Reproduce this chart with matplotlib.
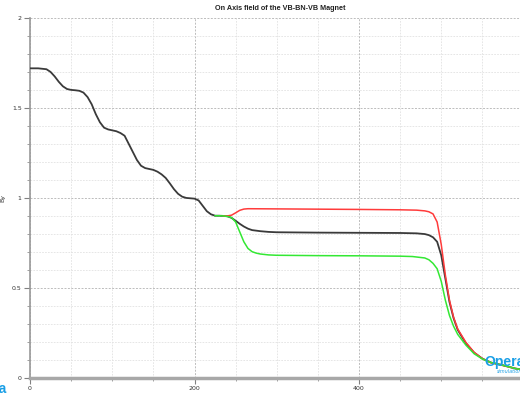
import matplotlib
matplotlib.use("Agg")
import matplotlib.pyplot as plt
from matplotlib.ticker import MultipleLocator, FixedLocator

# Field profile up to the point where the three settings split
z_common = [0, 10, 20, 25, 30, 35, 40, 45, 50, 55, 60, 65, 70, 75, 80, 85, 90, 95,
            100, 105, 110, 115, 120, 125, 130, 135, 140, 145, 150, 155, 160, 165,
            170, 175, 180, 185, 190, 195, 200, 205, 210, 215, 220, 225, 230, 235, 240]
by_common = [1.72, 1.72, 1.715, 1.70, 1.675, 1.645, 1.62, 1.605, 1.60, 1.598, 1.595,
             1.585, 1.56, 1.52, 1.465, 1.42, 1.39, 1.38, 1.375, 1.37, 1.36, 1.345,
             1.30, 1.255, 1.21, 1.178, 1.165, 1.16, 1.155, 1.145, 1.13, 1.11, 1.08,
             1.048, 1.022, 1.006, 0.999, 0.997, 0.995, 0.985, 0.955, 0.925, 0.908,
             0.90, 0.90, 0.899, 0.897]

# Nominal (black)
z_mid = [245, 250, 255, 260, 265, 270, 280, 290, 300, 350, 400, 450, 470, 480, 485,
         490, 495, 500, 505, 510, 515, 520, 530, 540, 550, 560, 575, 590, 600]
by_mid = [0.888, 0.872, 0.855, 0.84, 0.828, 0.82, 0.814, 0.81, 0.808, 0.806, 0.805,
          0.804, 0.802, 0.798, 0.792, 0.78, 0.755, 0.68, 0.55, 0.42, 0.33, 0.265,
          0.19, 0.138, 0.105, 0.084, 0.068, 0.05, 0.043]

# High setting (red)
z_high = [235, 240, 245, 250, 255, 260, 265, 300, 400, 450, 470, 480, 485, 490, 495,
          500, 505, 510, 515, 520, 530, 540, 550, 560, 575, 590, 600]
by_high = [0.899, 0.899, 0.903, 0.916, 0.93, 0.937, 0.939, 0.938, 0.935, 0.933,
           0.931, 0.927, 0.922, 0.91, 0.865, 0.74, 0.57, 0.43, 0.335, 0.27, 0.195,
           0.14, 0.105, 0.083, 0.067, 0.05, 0.044]

# Low setting (green)
z_low = [225, 230, 235, 240, 245, 250, 255, 260, 265, 270, 275, 280, 290, 300, 350,
         400, 450, 465, 480, 485, 490, 495, 500, 505, 510, 515, 520, 530, 540, 550,
         560, 575, 590, 600]
by_low = [0.90, 0.90, 0.899, 0.896, 0.89, 0.865, 0.81, 0.755, 0.718, 0.70, 0.692,
          0.687, 0.682, 0.68, 0.678, 0.677, 0.675, 0.673, 0.665, 0.655, 0.635, 0.605,
          0.535, 0.43, 0.345, 0.285, 0.24, 0.18, 0.132, 0.103, 0.084, 0.068, 0.05,
          0.042]

x_major = [0, 200, 400]
y_major = [0, 0.5, 1, 1.5, 2]
y_labels = ["0", "0.5", "1", "1.5", "2"]

W, H = 520, 394
fig = plt.figure(figsize=(W / 100, H / 100), dpi=100)
ax = fig.add_axes([30 / W, 16.5 / H, 493.5 / W, 359.5 / H])

ax.plot(z_common + z_mid, by_common + by_mid, color="#3a3a3a", lw=1.3, zorder=3)
ax.plot(z_high, by_high, color="#ff3b3b", lw=1.1, zorder=4)
ax.plot(z_low, by_low, color="#33e833", lw=1.1, zorder=5)

ax.set_xlim(0, 600)
ax.set_ylim(0, 2)
ax.xaxis.set_major_locator(FixedLocator(x_major))
ax.xaxis.set_minor_locator(MultipleLocator(50))
ax.yaxis.set_major_locator(FixedLocator(y_major))
ax.yaxis.set_minor_locator(MultipleLocator(0.1))
ax.set_yticklabels(y_labels)

ax.grid(which="major", color="#bcbcbc", linestyle=(0, (2, 1.5)), lw=0.7)
ax.grid(which="minor", color="#e2e2e2", linestyle=(0, (2, 1.5)), lw=0.6)
ax.set_axisbelow(True)

for s in ("top", "right"):
    ax.spines[s].set_visible(False)
ax.spines["left"].set_color("#9a9a9a")
ax.spines["left"].set_linewidth(1.2)
ax.spines["bottom"].set_color("#a8a8a8")
ax.spines["bottom"].set_linewidth(2.5)

ax.tick_params(which="major", length=4, width=0.8, color="#808080",
               labelsize=4.5, labelcolor="#333333", pad=2)
ax.tick_params(which="minor", length=2.5, width=0.6, color="#909090")

ax.set_ylabel("By", fontsize=4.5, color="#333333", labelpad=5)

fig.text(280 / W, 1 - 9 / H, "On Axis field of the VB-BN-VB Magnet",
         ha="center", va="center", fontsize=5.2, fontweight="bold",
         family=["Liberation Sans Narrow", "Liberation Sans", "DejaVu Sans"],
         color="#222222")

# Software logo in the corners
fig.text(484 / W, 1 - 366 / H, "Opera", ha="left", va="baseline",
         fontsize=10, fontweight="bold", color="#1a9fe6",
         family=["Liberation Sans Narrow", "Liberation Sans", "DejaVu Sans"],
         zorder=10)
fig.text(497 / W, 1 - 373 / H, "simulation", ha="left", va="baseline",
         fontsize=3.5, style="italic", color="#1a9fe6", zorder=10)
fig.text(7 / W, 1 - 393 / H, "Opera", ha="right", va="baseline",
         fontsize=10, fontweight="bold", color="#1a9fe6",
         family=["Liberation Sans Narrow", "Liberation Sans", "DejaVu Sans"],
         zorder=10)

fig.savefig("out.png", dpi=100)
